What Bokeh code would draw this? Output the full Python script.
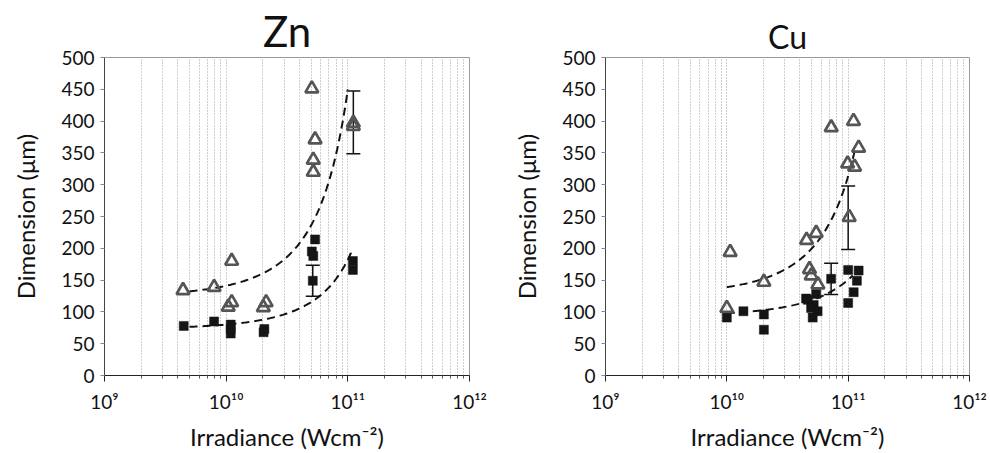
import numpy as np
from bokeh.plotting import figure
from bokeh.models import (ColumnDataSource, Whisker, TeeHead, CustomJSTickFormatter,
                          FixedTicker, Range1d)
from bokeh.layouts import row
from bokeh.embed import file_html
from bokeh.resources import INLINE

FONT = "Lato"

# ---- Zn: crater dimension vs irradiance ----
zn_tri_x = [4.42e9, 7.96e9, 1.11e10, 1.04e10, 1.11e10, 2.13e10, 2.02e10,
            5.06e10, 5.38e10, 5.2e10, 5.2e10, 1.11e11, 1.11e11]
zn_tri_y = [134, 139, 180, 108, 115, 115, 107, 451, 371, 339, 320, 392, 397]
zn_sq_x = [4.48e9, 7.96e9, 1.09e10, 1.09e10, 1.09e10, 2.06e10, 2.03e10,
           5.38e10, 5.06e10, 5.2e10, 5.15e10, 1.1e11, 1.1e11]
zn_sq_y = [78, 85, 80, 73, 66, 73, 68, 214, 195, 188, 149, 180, 166]
zn_err_x = [5.15e10, 1.11e11]
zn_err_mid = [149, 398]
zn_err_half = [24.5, 49.5]
# exponential trend lines y = a*exp(b*x): (a, b, x_start, x_end)
zn_tri_trend = (124.1, 1.288e-11, 5.0e9, 1.0e11)
zn_sq_trend = (73.1, 9.14e-12, 5.0e9, 1.09e11)

# ---- Cu ----
cu_tri_x = [1.0e10, 1.065e10, 2.02e10, 4.54e10, 5.45e10, 4.8e10, 4.96e10, 5.63e10,
            7.25e10, 1.107e11, 1.22e11, 9.9e10, 1.13e11, 1.02e11]
cu_tri_y = [106, 194, 147, 213, 224, 167, 157, 143, 390, 400, 358, 333, 328, 249]
cu_sq_x = [1.0e10, 1.37e10, 2.02e10, 2.02e10, 4.5e10, 4.65e10, 5.45e10, 5.2e10,
           4.95e10, 5.6e10, 5.1e10, 7.24e10, 1.0e11, 1.22e11, 1.18e11, 1.11e11, 1.0e11]
cu_sq_y = [91, 101, 96, 72, 121, 119, 128, 111, 106, 101, 91, 152, 166, 165, 149, 131, 114]
cu_err_x = [7.24e10, 1.0e11]
cu_err_mid = [152, 248]
cu_err_half = [24.5, 50]
cu_tri_trend = (127.0, 9.04e-12, 1.0e10, 1.16e11)
cu_sq_trend = (93.4, 4.78e-12, 1.0e10, 1.09e11)

y_ticks = list(range(0, 501, 50))
x_major = [1e9, 1e10, 1e11, 1e12]
x_minor = [m * 10.0 ** e for e in (9, 10, 11) for m in range(2, 10)]

SUP_JS = """
const sup = {"0":"\u2070","1":"\u00b9","2":"\u00b2","3":"\u00b3","4":"\u2074",
             "5":"\u2075","6":"\u2076","7":"\u2077","8":"\u2078","9":"\u2079","-":"\u207b"};
const e = Math.round(Math.log10(tick));
return "10" + String(e).split("").map(c => sup[c]).join("");
"""


def trend_curve(trend):
    a, b, x0, x1 = trend
    gx = np.logspace(np.log10(x0), np.log10(x1), 120)
    return gx, a * np.exp(b * gx)


def panel(title, title_size, title_offset, tri_x, tri_y, sq_x, sq_y,
          err_x, err_mid, err_half, tri_trend, sq_trend, left, right):
    p = figure(width=495, height=453, x_axis_type="log",
               x_range=Range1d(1e9, 1e12), y_range=Range1d(0, 500),
               output_backend="svg", toolbar_location=None,
               min_border_left=left, min_border_right=right,
               min_border_top=57, min_border_bottom=71,
               title=title)
    p.title.text_font = FONT
    p.title.text_font_size = title_size
    p.title.text_font_style = "normal"
    p.title.text_color = "#111111"
    p.title.align = "center"
    p.title.offset = title_offset
    p.title.standoff = 4

    p.outline_line_color = "#9a9a9a"
    p.outline_line_width = 1

    # dotted vertical grid on every decade subdivision
    p.xaxis.ticker = FixedTicker(ticks=x_major, minor_ticks=x_minor)
    p.xgrid.ticker = p.xaxis.ticker
    p.xgrid.grid_line_color = "#9c9c9c"
    p.xgrid.grid_line_dash = "1 2"
    p.xgrid.minor_grid_line_color = "#9c9c9c"
    p.xgrid.minor_grid_line_dash = "1 2"
    p.ygrid.grid_line_color = None

    p.xaxis.formatter = CustomJSTickFormatter(code=SUP_JS)
    p.xaxis.axis_label = "Irradiance (Wcm\u207b\u00b2)"
    p.xaxis.axis_line_color = "#222222"
    p.xaxis.major_tick_line_color = "#222222"
    p.xaxis.minor_tick_line_color = "#555555"
    p.xaxis.major_tick_out = 6
    p.xaxis.major_tick_in = 0
    p.xaxis.minor_tick_out = 3
    p.xaxis.minor_tick_in = 0
    p.xaxis.major_label_standoff = 8

    p.yaxis.ticker = FixedTicker(ticks=y_ticks)
    p.yaxis.axis_label = "Dimension (\u03bcm)"
    p.yaxis.axis_line_color = "#444444"
    p.yaxis.major_tick_line_color = "#888888"
    p.yaxis.minor_tick_line_color = None
    p.yaxis.major_tick_out = 4
    p.yaxis.major_tick_in = 0
    p.yaxis.major_label_standoff = 6
    p.yaxis.axis_label_standoff = 18

    for ax in (p.xaxis, p.yaxis):
        ax.major_label_text_font = FONT
        ax.major_label_text_font_size = "19px"
        ax.major_label_text_color = "#111111"
        ax.axis_label_text_font = FONT
        ax.axis_label_text_font_size = "24px"
        ax.axis_label_text_font_style = "normal"
        ax.axis_label_text_color = "#111111"
    p.xaxis.axis_label_standoff = 6

    # trend lines
    for trend in (tri_trend, sq_trend):
        gx, gy = trend_curve(trend)
        p.line(gx, gy, line_color="#111111", line_width=2, line_dash="8 5")

    # error bars
    err = ColumnDataSource(dict(
        x=err_x,
        lo=[m - h for m, h in zip(err_mid, err_half)],
        hi=[m + h for m, h in zip(err_mid, err_half)]))
    p.add_layout(Whisker(source=err, base="x", lower="lo", upper="hi",
                         line_color="#111111", line_width=1.5,
                         upper_head=TeeHead(size=14, line_color="#111111", line_width=1.5),
                         lower_head=TeeHead(size=14, line_color="#111111", line_width=1.5)))

    p.scatter(sq_x, sq_y, marker="square", size=9, fill_color="#151515",
              line_color="#151515", line_width=0.5)
    p.scatter(tri_x, tri_y, marker="triangle", size=13, fill_color=None,
              line_color="#555555", line_width=2.7)
    return p


p1 = panel("Zn", "42px", -10, zn_tri_x, zn_tri_y, zn_sq_x, zn_sq_y,
           zn_err_x, zn_err_mid, zn_err_half, zn_tri_trend, zn_sq_trend, 104, 26)
p2 = panel("Cu", "32px", 8, cu_tri_x, cu_tri_y, cu_sq_x, cu_sq_y,
           cu_err_x, cu_err_mid, cu_err_half, cu_tri_trend, cu_sq_trend, 110, 21)

layout = row(p1, p2)
open("out.html", "w").write(file_html(layout, INLINE))
